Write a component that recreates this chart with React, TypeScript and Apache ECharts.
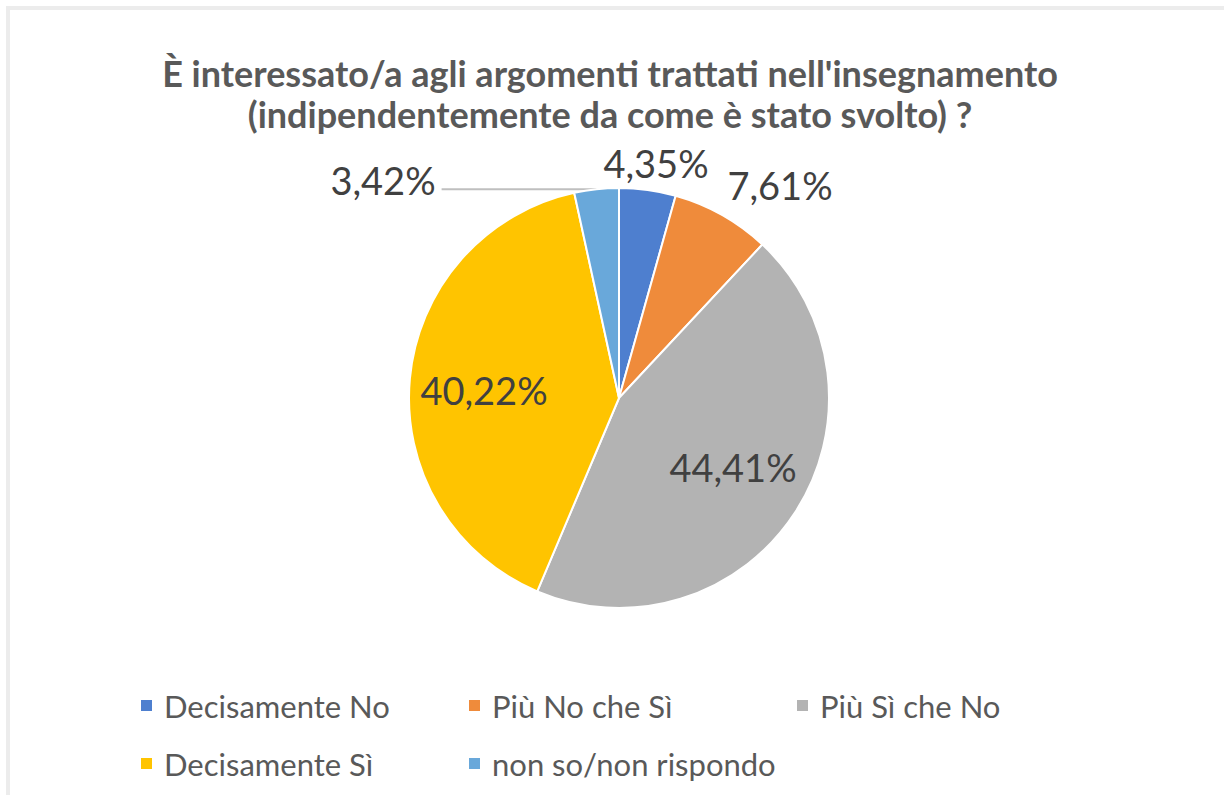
import React, { useEffect, useRef } from "react";
import * as echarts from "echarts";

const titleLines = [
  "È interessato/a agli argomenti trattati nell'insegnamento",
  "(indipendentemente da come è stato svolto) ?",
];
const categories = [
  "Decisamente No",
  "Più No che Sì",
  "Più Sì che No",
  "Decisamente Sì",
  "non so/non rispondo",
];
const values = [4.35, 7.61, 44.41, 40.22, 3.42];
const colors = ["#4E7FCF", "#EF8B3B", "#B3B3B3", "#FFC400", "#69A8DA"];

const FONT = "Lato, 'Open Sans', sans-serif";
const CX = 619;
const CY = 398;
const R = 210;

// label offsets relative to the pie centre (layout only)
const labelOffsets: [number, number][] = [
  [37, -235],
  [161, -213],
  [114, 69],
  [-135, -8],
  [-236, -218],
];
const legendPos: [number, number][] = [
  [134, 685],
  [462, 685],
  [790, 685],
  [134, 743],
  [462, 743],
];

const fmt = (v: number) => v.toFixed(2).replace(".", ",") + "%";

export default function App() {
  const ref = useRef<HTMLDivElement>(null);
  useEffect(() => {
    document.body.style.margin = "0";
    const chart = echarts.init(ref.current!, null, { renderer: "svg" });
    const total = values.reduce((a, b) => a + b, 0);
    let acc = 0;
    const midAngles = values.map((v) => {
      const start = 90 - (acc / total) * 360;
      acc += v;
      const end = 90 - (acc / total) * 360;
      return ((start + end) / 2) * (Math.PI / 180);
    });

    const option: any = {
      animation: false,
      backgroundColor: "#ffffff",
      graphic: [
        {
          type: "rect",
          shape: { x: 8, y: 8, width: 1240, height: 820 },
          style: { fill: "none", stroke: "#ececec", lineWidth: 4 },
          silent: true,
        },
      ],
      title: {
        text: titleLines.join("\n"),
        left: 610,
        top: 52,
        padding: 0,
        textAlign: "center",
        textStyle: {
          fontFamily: FONT,
          fontWeight: "bold",
          fontSize: 36,
          color: "#595959",
          lineHeight: 41,
        },
      },
      legend: categories.map((c, i) => ({
        data: [c],
        left: legendPos[i][0],
        top: legendPos[i][1],
        itemWidth: 13,
        itemHeight: 13,
        icon: "rect",
        selectedMode: false,
        textStyle: {
          fontFamily: FONT,
          fontSize: 31,
          color: "#595959",
          padding: [0, 0, 0, 6],
        },
      })),
      series: [
        {
          type: "pie",
          center: [CX, CY],
          radius: R,
          startAngle: 90,
          clockwise: true,
          data: categories.map((c, i) => ({
            name: c,
            value: values[i],
            itemStyle: { color: colors[i] },
            label: {
              position: i === 2 || i === 3 ? "inside" : "outside",
            },
            labelLine: { show: i === 4 },
          })),
          itemStyle: { borderColor: "#ffffff", borderWidth: 2 },
          label: {
            show: true,
            formatter: (p: any) => fmt(p.value),
            fontFamily: FONT,
            fontSize: 38,
            color: "#404040",
          },
          labelLine: {
            show: false,
            lineStyle: { color: "#BFBFBF", width: 2 },
          },
          labelLayout: (p: any) => {
            const i = p.dataIndex;
            const [dx, dy] = labelOffsets[i];
            const res: any = {
              x: CX + dx,
              y: CY + dy,
              align: "center",
              verticalAlign: "middle",
            };
            if (i === 4) {
              const a = midAngles[i];
              const ex = CX + R * Math.cos(a);
              const ey = CY - R * Math.sin(a);
              const lx = CX + dx + p.labelRect.width / 2 + 6;
              res.labelLinePoints = [
                [ex, ey],
                [(ex + lx) / 2, ey],
                [lx, ey],
              ];
            }
            return res;
          },
        },
      ],
    };
    chart.setOption(option);
    return () => chart.dispose();
  }, []);
  return <div ref={ref} style={{ width: 1224, height: 795 }} />;
}
